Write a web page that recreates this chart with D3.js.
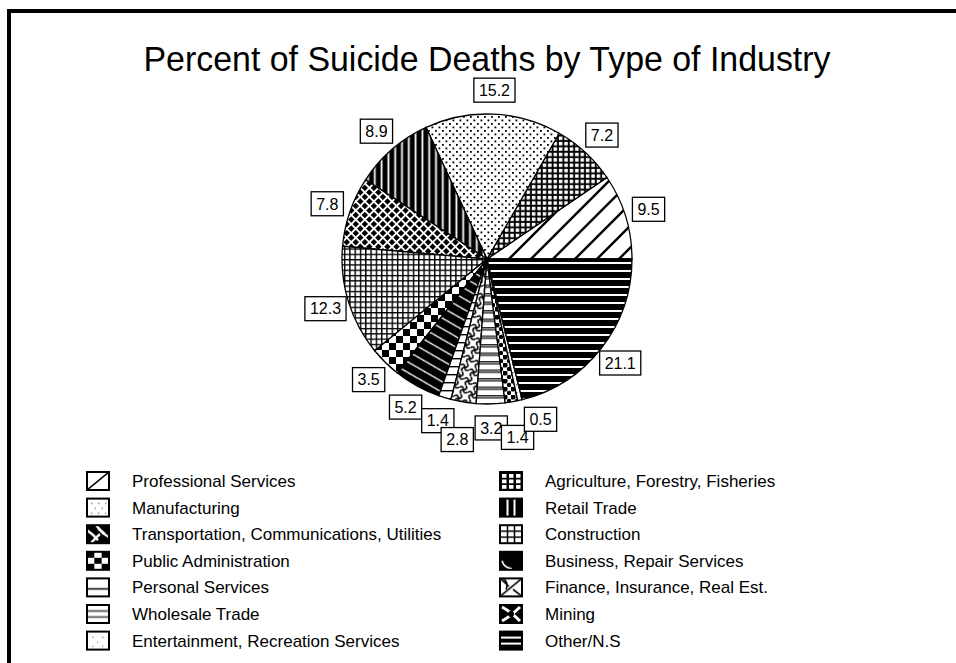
<!DOCTYPE html>
<html><head><meta charset="utf-8">
<script src="https://cdn.jsdelivr.net/npm/d3@7"></script>
<style>body{margin:0;background:#fff}svg{display:block;font-family:"Liberation Sans",Arial,sans-serif}</style>
</head><body>
<svg id="c" width="956" height="663"></svg>
<script>
const title = "Percent of Suicide Deaths by Type of Industry";
// categories in legend order (row-wise), pie drawn counter-clockwise from 3 o'clock
const categories = ["Professional Services","Agriculture, Forestry, Fisheries","Manufacturing","Retail Trade",
  "Transportation, Communications, Utilities","Construction","Public Administration","Business, Repair Services",
  "Personal Services","Finance, Insurance, Real Est.","Wholesale Trade","Mining",
  "Entertainment, Recreation Services","Other/N.S"];
const values = [9.5,7.2,15.2,8.9,7.8,12.3,3.5,5.2,1.4,2.8,3.2,1.4,0.5,21.1];
const patternIds = ["prof","agri","manuf","retail","transp","constr","public","business","personal","finance","wholesale","mining","entert","other"];

const svg = d3.select("#c");
const defs = svg.append("defs");
function pat(id, w, h, draw, transform){
  const p = defs.append("pattern").attr("id",id).attr("patternUnits","userSpaceOnUse").attr("width",w).attr("height",h);
  if(transform) p.attr("patternTransform",transform);
  draw(p); return p;
}
// ---- pie fill patterns
pat("prof",22,22,p=>{p.append("rect").attr("width",22).attr("height",22).attr("fill","#fff");
  p.append("path").attr("d","M-2,24 L24,-2 M-6,6 L6,-6 M16,28 L28,16").attr("stroke","#000").attr("stroke-width",2.4);});
pat("agri",5.4,5.4,p=>{p.append("rect").attr("width",5.4).attr("height",5.4).attr("fill","#000");
  p.append("rect").attr("x",1.7).attr("y",1.7).attr("width",3.5).attr("height",3.5).attr("fill","#fff");});
pat("manuf",7,7,p=>{p.append("rect").attr("width",7).attr("height",7).attr("fill","#fff");
  p.append("rect").attr("x",0.5).attr("y",0.5).attr("width",1.8).attr("height",1.8).attr("fill","#000");
  p.append("rect").attr("x",4).attr("y",4).attr("width",1.8).attr("height",1.8).attr("fill","#000");});
pat("retail",6.8,6.8,p=>{p.append("rect").attr("width",6.8).attr("height",6.8).attr("fill","#000");
  p.append("rect").attr("x",2.5).attr("y",0).attr("width",1.8).attr("height",6.8).attr("fill","#fff");});
pat("transp",6.4,6.4,p=>{p.append("rect").attr("width",6.4).attr("height",6.4).attr("fill","#fff");
  p.append("rect").attr("x",1.8).attr("y",1.8).attr("width",4.6).attr("height",4.6).attr("fill","#000");},"rotate(45)");
pat("constr",5.3,5.3,p=>{p.append("rect").attr("width",5.3).attr("height",5.3).attr("fill","#fff");
  p.append("path").attr("d","M0,0.7 H5.3 M0.7,0 V5.3").attr("stroke","#000").attr("stroke-width",1.4);});
pat("public",14,14,p=>{p.append("rect").attr("width",14).attr("height",14).attr("fill","#fff");
  p.append("rect").attr("width",7).attr("height",7).attr("fill","#000");
  p.append("rect").attr("x",7).attr("y",7).attr("width",7).attr("height",7).attr("fill","#000");});
pat("business",13,13,p=>{p.append("rect").attr("width",13).attr("height",13).attr("fill","#000");
  p.append("path").attr("d","M0,0 L13,13 M-6.5,6.5 L6.5,19.5 M6.5,-6.5 L19.5,6.5").attr("stroke","#fff").attr("stroke-width",1.3);},"rotate(-15)");
pat("personal",8,8,p=>{p.append("rect").attr("width",8).attr("height",8).attr("fill","#fff");
  p.append("rect").attr("y",3).attr("width",8).attr("height",1.4).attr("fill","#000");});
pat("finance",10,10,p=>{p.append("rect").attr("width",10).attr("height",10).attr("fill","#fff");
  p.append("path").attr("d","M0,5 Q2.5,1 5,5 T10,5 M5,0 Q9,2.5 5,5 T5,10").attr("fill","none").attr("stroke","#000").attr("stroke-width",1.6);},"rotate(30)");
pat("wholesale",8.5,8.5,p=>{p.append("rect").attr("width",8.5).attr("height",8.5).attr("fill","#fff");
  p.append("rect").attr("y",0.4).attr("width",8.5).attr("height",2.6).attr("fill","#8a8a8a");
  p.append("path").attr("d","M0,0.4 H8.5 M0,3 H8.5").attr("stroke","#000").attr("stroke-width",0.8);});
pat("mining",8,8,p=>{p.append("rect").attr("width",8).attr("height",8).attr("fill","#fff");
  p.append("circle").attr("cx",2).attr("cy",2).attr("r",2.6).attr("fill","#000");
  p.append("circle").attr("cx",6).attr("cy",6).attr("r",2.2).attr("fill","#000");});
pat("entert",8,8,p=>{p.append("rect").attr("width",8).attr("height",8).attr("fill","#fff");
  p.append("rect").attr("x",1).attr("y",1).attr("width",1.5).attr("height",1.5).attr("fill","#777");
  p.append("rect").attr("x",5).attr("y",5).attr("width",1.5).attr("height",1.5).attr("fill","#777");});
pat("other",8,8,p=>{p.append("rect").attr("width",8).attr("height",8).attr("fill","#000");
  p.append("rect").attr("y",3).attr("width",8).attr("height",2).attr("fill","#fff");});

// ---- legend swatch patterns (one tile per swatch, coarser as in the original)
const SW = 22, SH = 18;
function lpat(id, draw){
  const p = defs.append("pattern").attr("id","L-"+id).attr("patternUnits","objectBoundingBox")
    .attr("width",1).attr("height",1);
  draw(p);
}
const bg = (p,c)=>p.append("rect").attr("width",SW).attr("height",SH).attr("fill",c);
lpat("prof",p=>{bg(p,"#fff");p.append("path").attr("d",`M0,${SH} L${SW},0`).attr("stroke","#000").attr("stroke-width",1.6);});
lpat("agri",p=>{bg(p,"#000");[2,9,16].forEach(x=>[2,7.5,13].forEach(y=>p.append("rect").attr("x",x).attr("y",y).attr("width",4.5).attr("height",3.8).attr("fill","#fff")));});
lpat("manuf",p=>{bg(p,"#fff");[[4,4],[11,4],[18,4],[7.5,9],[14.5,9],[4,14],[11,14],[18,14]].forEach(([x,y])=>p.append("rect").attr("x",x).attr("y",y).attr("width",1.4).attr("height",1.4).attr("fill","#888"));});
lpat("retail",p=>{bg(p,"#000");p.append("path").attr("d",`M7.5,0 V${SH} M14.5,0 V${SH}`).attr("stroke","#fff").attr("stroke-width",2);});
lpat("transp",p=>{bg(p,"#000");p.append("path").attr("d","M0,5 Q6,9 11,15 M11,3 Q16,9 22,12 M4,18 Q9,12 13,9 M9,0 Q13,5 18,9").attr("stroke","#fff").attr("stroke-width",2.4).attr("fill","none");});
lpat("constr",p=>{bg(p,"#fff");p.append("path").attr("d",`M7.5,0 V${SH} M14.5,0 V${SH} M0,6 H${SW} M0,12 H${SW}`).attr("stroke","#000").attr("stroke-width",1.5);});
lpat("public",p=>{bg(p,"#fff");[0,1,2].forEach(i=>[0,1,2].forEach(j=>{if((i+j)%2===0)p.append("rect").attr("x",i*7.33).attr("y",j*6).attr("width",7.33).attr("height",6).attr("fill","#000");}));});
lpat("business",p=>{bg(p,"#000");p.append("path").attr("d","M2,9 Q4,16 12,17").attr("stroke","#fff").attr("stroke-width",1.6).attr("fill","none");});
lpat("personal",p=>{bg(p,"#fff");p.append("path").attr("d",`M0,10.5 H${SW}`).attr("stroke","#000").attr("stroke-width",1.5);});
lpat("finance",p=>{bg(p,"#fff");p.append("path").attr("d",`M0,${SH} L${SW},0 M0,0 L9,8 M13,11 L${SW},${SH} M3,0 Q9,4 6,11`).attr("stroke","#000").attr("stroke-width",1.6).attr("fill","none");});
lpat("wholesale",p=>{bg(p,"#fff");p.append("path").attr("d",`M0,6 H${SW} M0,12 H${SW}`).attr("stroke","#888").attr("stroke-width",2.5);});
lpat("mining",p=>{bg(p,"#000");p.append("path").attr("d",`M2,2 Q11,7 ${SW-2},${SH-2} M${SW-2},2 Q11,11 2,${SH-2}`).attr("stroke","#fff").attr("stroke-width",3).attr("fill","none");
  p.append("circle").attr("cx",11).attr("cy",9).attr("r",3).attr("fill","#000");});
lpat("entert",p=>{bg(p,"#fff");[[5,5],[15,5],[10,10],[5,14],[15,14]].forEach(([x,y])=>p.append("rect").attr("x",x).attr("y",y).attr("width",1.4).attr("height",1.4).attr("fill","#999"));});
lpat("other",p=>{bg(p,"#000");p.append("path").attr("d",`M0,6 H${SW} M0,12 H${SW}`).attr("stroke","#fff").attr("stroke-width",2);});

// frame
svg.append("path").attr("d","M9,670 V11 H960").attr("fill","none").attr("stroke","#000").attr("stroke-width",4);

// title (slightly condensed, as in the original)
svg.append("text").attr("x",487).attr("y",71).attr("text-anchor","middle").attr("font-size",35)
  .attr("textLength",687).attr("lengthAdjust","spacingAndGlyphs")
  .attr("fill","#000").text(title);

// pie
const cx = 487, cy = 259, R = 145;
const data = categories.map((c,i)=>({cat:c, v:values[i], pid:patternIds[i]}));
const pie = d3.pie().value(d=>d.v).sort(null).startAngle(Math.PI/2).endAngle(Math.PI/2 - 2*Math.PI);
const arcs = pie(data);
const arc = d3.arc().innerRadius(0).outerRadius(R);
const g = svg.append("g").attr("transform",`translate(${cx},${cy})`);
g.selectAll("path.slice").data(arcs).join("path").attr("class","slice")
  .attr("d",arc).attr("fill",d=>`url(#${d.data.pid})`).attr("stroke","#000").attr("stroke-width",1.3);

// labels: boxed values outside the pie; on collision push outward first, else slide along the arc
const LR = R + 24;
const fmt = d3.format(".1f");
const placed = [];
arcs.forEach(a=>{
  const lg = g.append("g");
  const rect = lg.append("rect").attr("fill","#fff").attr("stroke","#000").attr("stroke-width",1.3);
  const t = lg.append("text").attr("text-anchor","middle").attr("font-size",16).attr("dy","0.36em").text(fmt(a.data.v));
  const tw = t.node().getComputedTextLength();
  const w = tw + 10, h = 24;
  const mid = (a.startAngle + a.endAngle)/2;
  const at = (an,r)=>({x:Math.sin(an)*r, y:-Math.cos(an)*r});
  const bad = p0 => placed.some(p=>{
    const ox = Math.min(p0.x+w/2,p.x+p.w/2)-Math.max(p0.x-w/2,p.x-p.w/2);
    const oy = Math.min(p0.y+h/2,p.y+p.h/2)-Math.max(p0.y-h/2,p.y-p.h/2);
    return ox>6 && oy>6;});
  let best = null;
  for(let dr=0; dr<=20 && !best; dr++){ const c = at(mid, LR+dr); if(!bad(c)) best = c; }
  for(let dt=0; dt<=0.25 && !best; dt+=0.003){ const c = at(mid-dt, LR); if(!bad(c)) best = c; }
  if(!best) best = at(mid, LR);
  rect.attr("x",best.x-w/2).attr("y",best.y-h/2).attr("width",w).attr("height",h);
  t.attr("x",best.x).attr("y",best.y);
  placed.push({x:best.x,y:best.y,w,h});
});

// legend (two columns, row-wise)
const legX = [87, 500], txtOff = 45, legY0 = 481, legDy = 26.6;
const leg = svg.append("g");
data.forEach((d,i)=>{
  const col = i%2, row = Math.floor(i/2);
  const x = legX[col], y = legY0 + row*legDy;
  leg.append("rect").attr("x",x).attr("y",y-SH/2).attr("width",SW).attr("height",SH)
    .attr("fill",`url(#L-${d.pid})`).attr("stroke","#000").attr("stroke-width",2);
  leg.append("text").attr("x",x+txtOff).attr("y",y).attr("dy","0.35em").attr("font-size",17).text(d.cat);
});
</script>
</body></html>
